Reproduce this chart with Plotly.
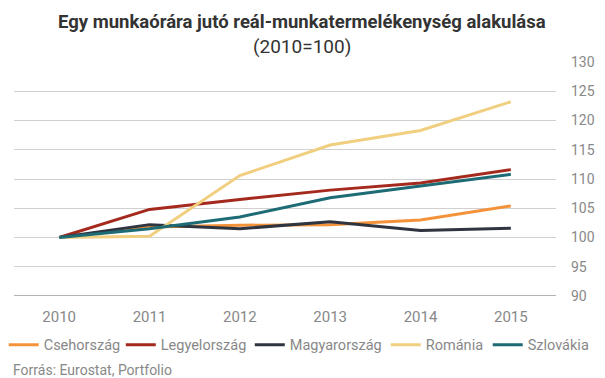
import plotly.graph_objects as go

years = ["2010", "2011", "2012", "2013", "2014", "2015"]
cseh = [100, 101.8, 102.1, 102.2, 103.0, 105.4]
lengyel = [100, 104.8, 106.5, 108.1, 109.3, 111.6]
magyar = [100, 102.2, 101.5, 102.7, 101.2, 101.6]
roman = [100, 100.2, 110.6, 115.8, 118.3, 123.2]
szlovak = [100, 101.5, 103.5, 106.8, 108.8, 110.8]

series = [
    ("Csehország", cseh, "#F4923A"),
    ("Legyelország", lengyel, "#A52A1E"),
    ("Magyarország", magyar, "#2E3440"),
    ("Románia", roman, "#F1CF80"),
    ("Szlovákia", szlovak, "#1D6B74"),
]
legend_x = [-0.019, 0.197, 0.435, 0.686, 0.874]
legend_ids = ["legend", "legend2", "legend3", "legend4", "legend5"]

fig = go.Figure()
for (name, vals, col), lid in zip(series, legend_ids):
    fig.add_trace(go.Scatter(x=years, y=vals, name=name, mode="lines",
                             line=dict(color=col, width=3), legend=lid))

legend_style = dict(orientation="h", xanchor="left", y=-0.209, yanchor="middle",
                    font=dict(size=14.5, color="#888888"), itemwidth=30,
                    bgcolor="rgba(0,0,0,0)")
layout_legends = {lid: dict(x=lx, **legend_style) for lid, lx in zip(legend_ids, legend_x)}

fig.update_layout(
    width=605, height=378,
    margin=dict(l=14, r=49, t=62, b=82, autoexpand=False),
    paper_bgcolor="white", plot_bgcolor="white",
    font=dict(family="Roboto", color="#888888", size=14),
    xaxis=dict(type="category", range=[-0.5, 5.5], showgrid=False, showline=False,
               ticks="", ticklabelstandoff=10,
               tickfont=dict(size=15, color="#888888")),
    yaxis=dict(side="right", range=[90, 130], dtick=5, showgrid=True,
               gridcolor="#D0D0D0", gridwidth=1, zeroline=False,
               showline=False, ticks="", ticklabelstandoff=14,
               tickfont=dict(size=14, color="#888888")),
    showlegend=True,
    **layout_legends,
)
fig.add_shape(type="line", xref="paper", yref="y", x0=0, x1=1, y0=90, y1=90,
              line=dict(color="#666666", width=1))
fig.add_annotation(text="<b>Egy munkaórára jutó reál-munkatermelékenység alakulása</b>",
                   xref="paper", yref="paper", x=0.532, y=1.171, xanchor="center",
                   yanchor="middle", showarrow=False,
                   font=dict(family="Roboto", size=18.5, color="#333333"))
fig.add_annotation(text="(2010=100)",
                   xref="paper", yref="paper", x=0.532, y=1.068, xanchor="center",
                   yanchor="middle", showarrow=False,
                   font=dict(family="Roboto", size=19, color="#333333"))
fig.add_annotation(text="Forrás: Eurostat, Portfolio", xref="paper", yref="paper",
                   x=-0.006, y=-0.316, xanchor="left", yanchor="middle",
                   showarrow=False, font=dict(size=14, color="#888888"))

fig.write_html("out.html", config={"displayModeBar": False},
               post_script="document.body.style.margin='0';document.body.style.overflow='hidden';")
